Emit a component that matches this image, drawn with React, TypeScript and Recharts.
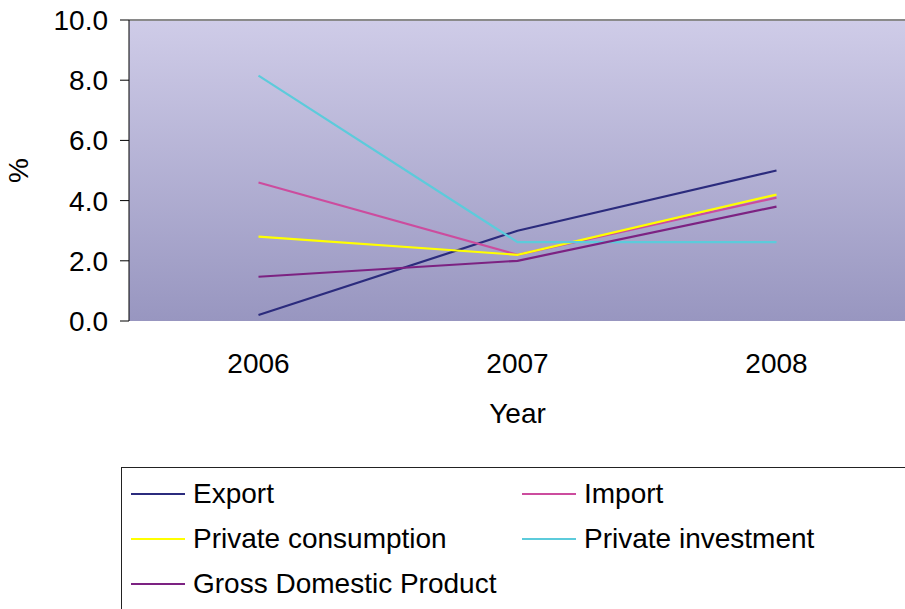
import React from 'react';
import { LineChart, Line, XAxis, YAxis, CartesianGrid } from 'recharts';

const years = ['2006', '2007', '2008'];
const exportGrowth = [0.2, 3.0, 5.0];
const importGrowth = [4.6, 2.2, 4.1];
const consumptionGrowth = [2.8, 2.2, 4.2];
const investmentGrowth = [8.15, 2.62, 2.62];
const gdpGrowth = [1.47, 2.0, 3.8];
const yTicks = [0, 2, 4, 6, 8, 10];
const boundaryTicks = [0, 1, 2, 3];

const series = [
  { key: 'export', name: 'Export', values: exportGrowth, color: '#2b2b7d' },
  { key: 'import', name: 'Import', values: importGrowth, color: '#cc4c9e' },
  { key: 'consumption', name: 'Private consumption', values: consumptionGrowth, color: '#ffff00' },
  { key: 'investment', name: 'Private investment', values: investmentGrowth, color: '#5ccbdb' },
  { key: 'gdp', name: 'Gross Domestic Product', values: gdpGrowth, color: '#7c2282' },
];

const data = years.map((year, i) => {
  const row: Record<string, string | number> = { year };
  series.forEach((s) => {
    row[s.key] = s.values[i];
  });
  return row;
});

const font = '"Liberation Sans", Arial, sans-serif';

export default function App() {
  return (
    <div style={{ position: 'absolute', left: 0, top: 0, width: 905, height: 609, overflow: 'hidden', background: '#fff', fontFamily: font }}>
      <LineChart width={910} height={440} data={data} margin={{ top: 20, right: 4, bottom: 9, left: 0 }}>
        <defs>
          <linearGradient id="plotBg" x1="0" y1="0" x2="0" y2="1">
            <stop offset="0%" stopColor="#cfcce8" />
            <stop offset="100%" stopColor="#9896c0" />
          </linearGradient>
        </defs>
        <CartesianGrid fill="url(#plotBg)" vertical={false} horizontalValues={[10]} stroke="#8a8a8a" strokeWidth={2} />
        <XAxis
          xAxisId="0"
          type="number"
          dataKey={() => 0}
          domain={[0, 3]}
          ticks={boundaryTicks}
          tickFormatter={() => ''}
          tickSize={9}
          height={0}
          stroke="#000"
          axisLine={{ stroke: '#222', strokeWidth: 2 }}
          tickLine={{ stroke: '#000' }}
        />
        <XAxis
          xAxisId="lab"
          dataKey="year"
          type="category"
          padding={{ left: 129.5, right: 129.5 }}
          axisLine={false}
          tickLine={false}
          tickSize={0}
          tickMargin={32}
          height={110}
          tick={{ fill: '#000', fontSize: 28, fontFamily: font }}
          label={{ value: 'Year', position: 'insideBottom', offset: 8, fill: '#000', fontSize: 28, fontFamily: font }}
        />
        <YAxis
          domain={[0, 10]}
          ticks={yTicks}
          tickFormatter={(v: number) => v.toFixed(1)}
          width={129}
          tickSize={9}
          tickMargin={12}
          axisLine={{ stroke: '#000' }}
          tickLine={{ stroke: '#000' }}
          tick={{ fill: '#000', fontSize: 28, fontFamily: font }}
          label={{ value: '%', angle: -90, position: 'insideLeft', offset: 18, textAnchor: 'middle', fill: '#000', fontSize: 28, fontFamily: font }}
        />
        {series.map((s) => (
          <Line
            key={s.key}
            xAxisId="lab"
            dataKey={s.key}
            name={s.name}
            stroke={s.color}
            strokeWidth={2.2}
            dot={false}
            type="linear"
            isAnimationActive={false}
          />
        ))}
      </LineChart>
      <div
        style={{
          position: 'absolute',
          left: 121,
          top: 467,
          width: 820,
          height: 180,
          border: '1px solid #222',
          boxSizing: 'border-box',
        }}
      >
        {series.map((s, i) => {
          const col = i % 2;
          const row = Math.floor(i / 2);
          return (
            <div
              key={s.key}
              style={{
                position: 'absolute',
                left: col === 0 ? 9 : 400,
                top: 26 + row * 45 - 17,
                height: 34,
                display: 'flex',
                alignItems: 'center',
                whiteSpace: 'nowrap',
              }}
            >
              <span style={{ display: 'inline-block', width: 54, height: 2, background: s.color, marginRight: 8 }} />
              <span style={{ fontSize: 28, color: '#000', lineHeight: '34px' }}>{s.name}</span>
            </div>
          );
        })}
      </div>
    </div>
  );
}
